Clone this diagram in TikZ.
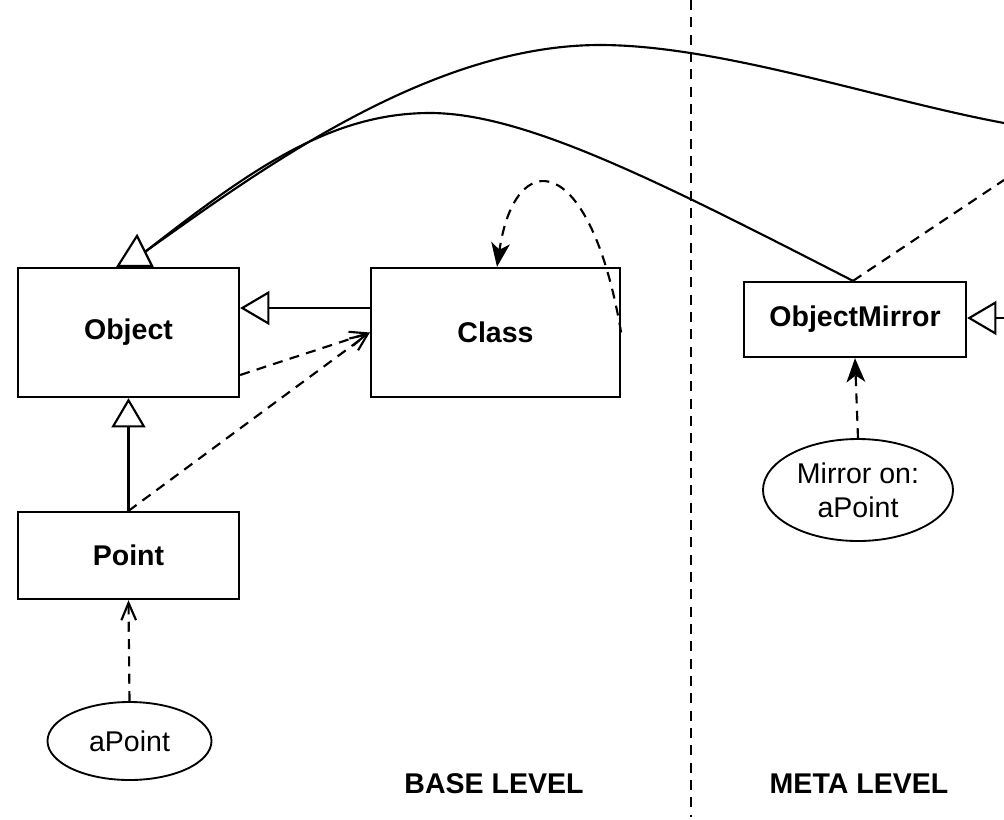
\documentclass[tikz,border=0pt]{standalone}
\usepackage{fontspec}
\setmainfont{Liberation Sans}
\usetikzlibrary{arrows.meta,calc,shapes.geometric}
\begin{document}
\begin{tikzpicture}[x=0.75pt,y=-0.75pt,
  every node/.style={font=\fontsize{21.4}{25.7}\selectfont},
  classbox/.style={draw,line width=1.7pt,rectangle,inner sep=0pt,
    font=\fontsize{21.4}{25.7}\selectfont\bfseries},
  instance/.style={draw,line width=1.4pt,ellipse,inner sep=0pt,align=center},
  levellabel/.style={font=\fontsize{21.4}{25.7}\selectfont\bfseries},
  link/.style={line width=1.6pt},
  dep/.style={line width=1.6pt,dash pattern=on 7.5pt off 5.5pt},
  inherit/.style={link,-{Triangle[open,length=22pt,width=25.5pt,line width=1.6pt]}},
  instof/.style={dep,-{Straight Barb[length=13pt,width=11pt,line width=1.6pt]}},
  reflect/.style={dep,-{Stealth[length=18pt,width=14pt,inset=5pt]}},
]
\useasboundingbox (0,0) rectangle (1004,819);

% level separator
\coordinate (septop) at (691,0);
\coordinate (sepbot) at (691,817);
\draw[dep] (septop) -- (sepbot);

% base level classes and instance
\node[classbox,minimum width=165.75pt,minimum height=96.75pt] (obj) at (128.5,332.5) {Object};
\node[classbox,minimum width=186.75pt,minimum height=96.75pt] (cls) at (495.5,332.5) {Class};
\node[classbox,minimum width=165.75pt,minimum height=65.25pt] (pt) at (128.5,555.5) {Point};
\node[instance,minimum width=123pt,minimum height=58.5pt] (apt) at (129.5,741) {aPoint};

% meta level
\node[classbox,minimum width=166.5pt,minimum height=56.25pt] (om) at (855,319.5) {ObjectMirror};
\node[instance,minimum width=142.5pt,minimum height=76.5pt] (mir) at (858,490) {Mirror on:\\aPoint};

\node[levellabel] (base) at (494,784) {BASE LEVEL};
\node[levellabel] (meta) at (859,784) {META LEVEL};

% generalisations
\draw[inherit] ($(cls.west)+(0,-24.5)$) -- ($(obj.east)+(0,-24.5)$);
\draw[inherit] (pt.north) -- (obj.south);
\coordinate (omsub) at (1004,318);
\draw[inherit] (omsub) -- (om.east |- omsub);

% instance-of links
\draw[instof] ($(obj.east)+(0,42.5)$) -- (cls.west);
\draw[instof] (pt.north) -- (cls.west);
\draw[instof] (apt.north) -- (pt.south);
\draw[reflect] (cls.east) .. controls (590,150) and (515,145) .. ($(cls.north)+(1.5,0)$);
\draw[reflect] (mir.north) -- (om.south);

% long links leaving the base level
\coordinate (hook) at ($(obj.north)+(16.5,-15)$);
\coordinate (outerend) at (1004,123);
\coordinate (dashend) at (1004,180);
\draw[link] (hook) .. controls (260,170) and (430,45) .. (600,45)
  .. controls (720,45) and (880,100) .. (outerend);
\draw[link] (hook) .. controls (250,170) and (330,113) .. (430,113)
  .. controls (525,113) and (660,182) .. ($(om.north)+(-2,0)$);
\draw[dep] ($(om.north)+(-2,0)$) -- (dashend);
\draw[link,fill=white] ($(obj.north)+(-10.5,-1)$) -- ($(obj.north)+(23.5,-1)$)
  -- ($(obj.north)+(8.5,-31)$) -- cycle;
\end{tikzpicture}
\end{document}
